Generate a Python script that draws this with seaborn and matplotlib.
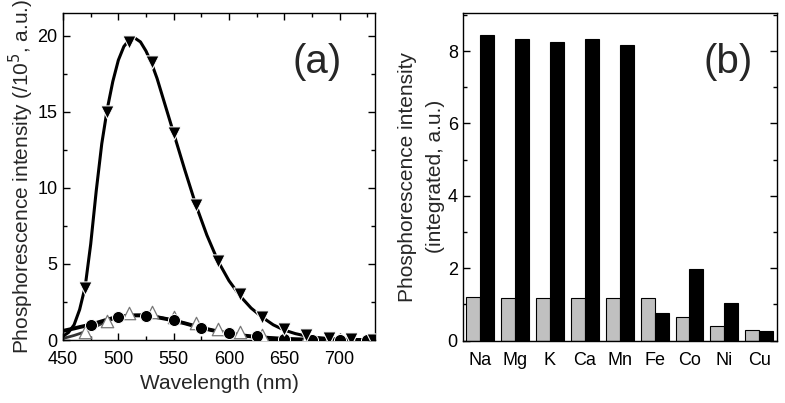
import matplotlib
matplotlib.use("Agg")
import matplotlib.pyplot as plt
import seaborn as sns
import pandas as pd
from matplotlib.ticker import MultipleLocator

# panel (a): fitted curves
curve_wl = [450, 455, 460, 465, 470, 475, 480, 485, 490, 495, 500, 505, 510, 515, 520,
            525, 530, 535, 540, 545, 550, 560, 570, 580, 590, 600, 610, 620, 630, 640,
            650, 660, 670, 680, 690, 700, 715, 732]
curve_down = [0.25, 0.5, 1.0, 2.0, 3.5, 6.3, 9.8, 12.9, 15.2, 17.0, 18.4, 19.3, 19.75, 19.85, 19.6,
              19.0, 18.2, 17.2, 16.0, 14.8, 13.6, 11.2, 8.9, 6.9, 5.2, 3.9, 2.9, 2.1, 1.5, 1.0,
              0.65, 0.42, 0.26, 0.16, 0.1, 0.06, 0.03, 0.01]
curve_circ = [0.6, 0.68, 0.76, 0.85, 0.93, 1.02, 1.12, 1.23, 1.34, 1.44, 1.52, 1.57, 1.6, 1.62, 1.62,
              1.6, 1.56, 1.5, 1.43, 1.36, 1.28, 1.1, 0.9, 0.72, 0.56, 0.43, 0.32, 0.24, 0.17, 0.12,
              0.08, 0.05, 0.03, 0.02, 0.01, 0.01, 0.0, 0.0]
curve_up = [0.1, 0.2, 0.3, 0.42, 0.55, 0.72, 0.9, 1.08, 1.25, 1.38, 1.48, 1.55, 1.6, 1.63, 1.64,
            1.62, 1.58, 1.52, 1.45, 1.37, 1.28, 1.1, 0.9, 0.72, 0.56, 0.43, 0.32, 0.24, 0.17, 0.12,
            0.08, 0.05, 0.03, 0.02, 0.01, 0.01, 0.0, 0.0]

# measured points
down_wl = [470, 490, 510, 530, 550, 570, 590, 610, 630, 650, 670, 690, 710, 730]
down_val = [3.4, 15.0, 19.6, 18.3, 13.6, 8.9, 5.2, 3.0, 1.5, 0.7, 0.3, 0.12, 0.05, 0.02]
circ_wl = [475, 500, 525, 550, 575, 600, 625, 650, 675, 700, 725]
circ_val = [1.0, 1.53, 1.6, 1.3, 0.78, 0.46, 0.24, 0.08, 0.03, 0.01, 0.0]
up_wl = [470, 490, 510, 530, 550, 570, 590, 610, 630, 650, 670, 690, 710, 730]
up_val = [0.55, 1.22, 1.8, 1.85, 1.5, 1.1, 0.75, 0.5, 0.35, 0.15, 0.06, 0.03, 0.02, 0.02]

# panel (b)
metals = ["Na", "Mg", "K", "Ca", "Mn", "Fe", "Co", "Ni", "Cu"]
gray_vals = [1.22, 1.17, 1.17, 1.17, 1.17, 1.17, 0.66, 0.41, 0.30]
black_vals = [8.44, 8.32, 8.26, 8.33, 8.17, 0.77, 1.99, 1.05, 0.27]

sns.set_style("ticks")
plt.rcParams['font.family'] = ['Liberation Sans', 'DejaVu Sans']
plt.rcParams['axes.linewidth'] = 1.0

fig = plt.figure(figsize=(7.85, 4.03), dpi=100)
ax1 = fig.add_axes([0.0803, 0.1563, 0.3974, 0.8114])
ax2 = fig.add_axes([0.5894, 0.1546, 0.4000, 0.8131])

# ---- (a) ----
sns.lineplot(x=curve_wl, y=curve_up, ax=ax1, color='#333333', lw=2.0)
sns.lineplot(x=curve_wl, y=curve_circ, ax=ax1, color='black', lw=2.8)
sns.lineplot(x=curve_wl, y=curve_down, ax=ax1, color='black', lw=2.2)
sns.scatterplot(x=up_wl, y=up_val, ax=ax1, marker='^', s=80, facecolor='white',
                edgecolor='#777777', linewidth=0.9, zorder=4)
sns.scatterplot(x=circ_wl, y=circ_val, ax=ax1, marker='o', s=75, color='black', zorder=5)
sns.scatterplot(x=down_wl, y=down_val, ax=ax1, marker='v', s=90, color='black', zorder=5)

ax1.set_xlim(450, 732)
ax1.set_ylim(0, 21.5)
ax1.xaxis.set_major_locator(MultipleLocator(50))
ax1.xaxis.set_minor_locator(MultipleLocator(25))
ax1.yaxis.set_major_locator(MultipleLocator(5))
ax1.yaxis.set_minor_locator(MultipleLocator(2.5))
ax1.set_xlabel('Wavelength (nm)', fontsize=15, labelpad=4)
ax1.set_ylabel('Phosphorescence intensity (/10$^5$, a.u.)', fontsize=15, labelpad=1)
ax1.text(0.894, 0.85, '(a)', transform=ax1.transAxes, fontsize=29, ha='right', va='center')

# ---- (b) ----
df = pd.DataFrame({
    'metal': metals * 2,
    'value': gray_vals + black_vals,
    'group': ['gray'] * len(metals) + ['black'] * len(metals),
})
sns.barplot(data=df, x='metal', y='value', hue='group', ax=ax2,
            palette={'gray': '#c0c0c0', 'black': 'black'},
            edgecolor='black', linewidth=0.8, width=0.8, legend=False)
ax2.set_xlim(-0.5, len(metals) - 0.5)
ax2.set_ylim(0, 9.05)
ax2.yaxis.set_major_locator(MultipleLocator(2))
ax2.yaxis.set_minor_locator(MultipleLocator(1))
ax2.set_xlabel('')
ax2.set_ylabel('Phosphorescence intensity\n(integrated, a.u.)', fontsize=15, labelpad=2,
               linespacing=1.6)
ax2.text(0.924, 0.85, '(b)', transform=ax2.transAxes, fontsize=29, ha='right', va='center')

for ax in (ax1, ax2):
    for s in ax.spines.values():
        s.set_visible(True)
        s.set_color('black')
    ax.tick_params(which='both', direction='in', top=(ax is ax1), right=True,
                   labelsize=13, colors='black')
    ax.tick_params(which='major', length=5, width=1)
    ax.tick_params(which='minor', length=3, width=1)
ax1.tick_params(axis='x', which='both', pad=8)
ax1.tick_params(axis='y', which='both', pad=4)
ax2.tick_params(axis='x', which='both', length=0, top=False, bottom=False, pad=8)

fig.savefig('out.png', dpi=100)
